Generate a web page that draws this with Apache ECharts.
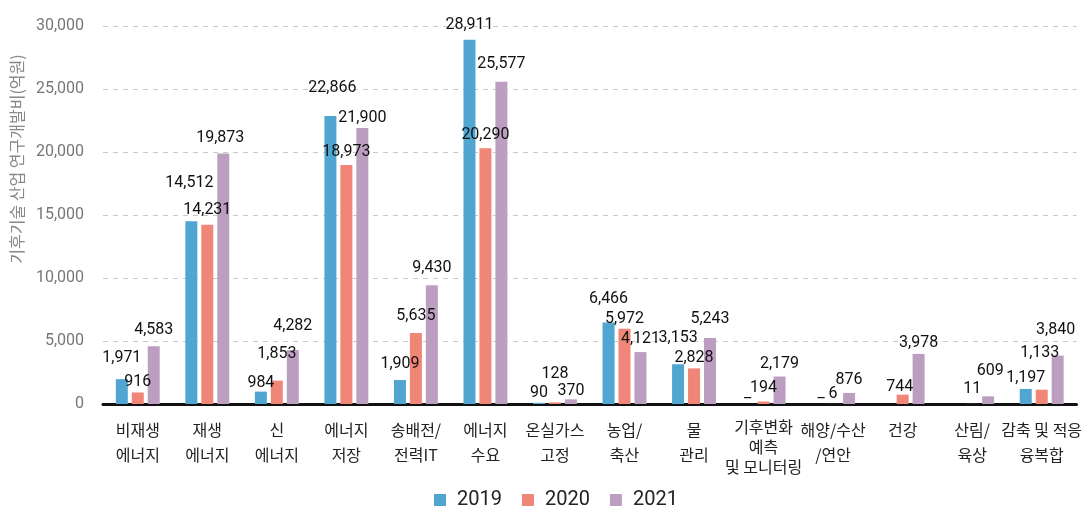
<!DOCTYPE html>
<html>
<head>
<meta charset="utf-8">
<script src="https://cdn.jsdelivr.net/npm/echarts@6/dist/echarts.min.js"></script>
<style>
  html, body { margin: 0; padding: 0; background: #fff; }
  #chart { width: 1085px; height: 508px; }
</style>
</head>
<body>
<div id="chart"></div>
<script>
// 분야 (x축)
const categories = [
  '비재생\n에너지', '재생\n에너지', '신\n에너지', '에너지\n저장', '송배전/\n전력IT',
  '에너지\n수요', '온실가스\n고정', '농업/\n축산', '물\n관리', '기후변화\n예측\n및 모니터링',
  '해양/수산\n/연안', '건강', '산림/\n육상', '감축 및 적응\n융복합'
];
const years = ['2019', '2020', '2021'];

// 연구개발비(억원), null = 자료 없음
const v2019 = [1971, 14512, 984, 22866, 1909, 28911, 90, 6466, 3153, null, null, null, null, 1197];
const v2020 = [916, 14231, 1853, 18973, 5635, 20290, 128, 5972, 2828, 194, 6, 744, 11, 1133];
const v2021 = [4583, 19873, 4282, 21900, 9430, 25577, 370, 4121, 5243, 2179, 876, 3978, 609, 3840];

// "_" 로 표시된 빈 칸 (2019)
const dashCells2019 = [9, 10];

const yTicks = { min: 0, max: 30000, step: 5000 };

// 라벨 위치 미세조정 [dx, dy]
const nudge = {
  '2019': [[0,-8],[-2,-25],[0,4],[2,-15],[0,-3],[0,-2],[0,3],[0,-11],[0,-13],[0,2],[4,2],[0,0],[0,0],[0,2]],
  '2020': [[0,3],[0,-2],[0,-14],[0,0],[0,-4],[0,0],[0,-15],[0,3],[0,3],[0,-1],[0,3],[-3,5],[0,-2],[-2,-24]],
  '2021': [[0,-3],[-3,-3],[0,-11],[0,3],[0,-4],[0,-5],[0,5],[0,0],[0,-6],[0,0],[0,0],[0,2],[2,-12],[-2,-13]]
};

const colors = ['#50a5d1', '#ef8677', '#bc9ec1'];
const numFont = 'Roboto, "Liberation Sans", sans-serif';
const fmt = n => n.toLocaleString('en-US');

function buildData(year, values) {
  return values.map((v, i) => {
    const off = nudge[year][i];
    if (v === null) {
      if (year === '2019' && dashCells2019.includes(i)) {
        return { value: 0, label: { show: true, formatter: '_', offset: off } };
      }
      return '-';
    }
    return { value: v, label: { offset: off } };
  });
}

const chart = echarts.init(document.getElementById('chart'));

const series = [v2019, v2020, v2021].map((vals, idx) => ({
  name: years[idx],
  type: 'bar',
  barWidth: 12,
  barGap: '33%',
  itemStyle: { color: colors[idx] },
  label: {
    show: true,
    position: 'top',
    distance: 5,
    color: '#111',
    fontFamily: numFont,
    fontSize: 16,
    formatter: p => fmt(p.value)
  },
  data: buildData(years[idx], vals)
}));

chart.setOption({
  animation: false,
  color: colors,
  grid: { left: 103, right: 6, top: 26, bottom: 104 },
  legend: {
    left: 429,
    top: 485,
    itemWidth: 12,
    itemHeight: 12,
    itemGap: 20,
    icon: 'rect',
    textStyle: {
      fontFamily: numFont,
      fontSize: 20,
      color: '#222',
      padding: [0, 0, 0, 6]
    },
    data: years
  },
  xAxis: {
    type: 'category',
    data: categories,
    axisLine: { lineStyle: { color: '#111', width: 3 } },
    axisTick: { show: false },
    axisLabel: {
      interval: 0,
      margin: 13,
      color: '#222',
      fontFamily: '"Noto Sans CJK KR", sans-serif',
      fontSize: 16,
      lineHeight: 25,
      formatter: v => {
        const lines = v.split('\n');
        if (lines.length < 3) return v;
        return lines.map(s => '{t|' + s + '}').join('\n');
      },
      rich: {
        t: {
          fontFamily: '"Noto Sans CJK KR", sans-serif',
          fontSize: 16,
          color: '#222',
          lineHeight: 20
        }
      }
    }
  },
  yAxis: {
    type: 'value',
    min: yTicks.min,
    max: yTicks.max,
    interval: yTicks.step,
    name: '기후기술 산업 연구개발비(억원)',
    nameLocation: 'middle',
    nameGap: 61,
    nameTextStyle: {
      color: '#888',
      fontFamily: '"Noto Sans CJK KR", sans-serif',
      fontSize: 16,
      padding: [0, 0, 0, 112]
    },
    axisLine: { show: false },
    axisTick: { show: false },
    axisLabel: {
      margin: 19,
      color: '#777',
      fontFamily: numFont,
      fontSize: 16,
      formatter: v => fmt(v)
    },
    splitLine: { lineStyle: { color: '#c8c8c8', type: [5, 5], width: 1 } }
  },
  series: series
});
</script>
</body>
</html>
